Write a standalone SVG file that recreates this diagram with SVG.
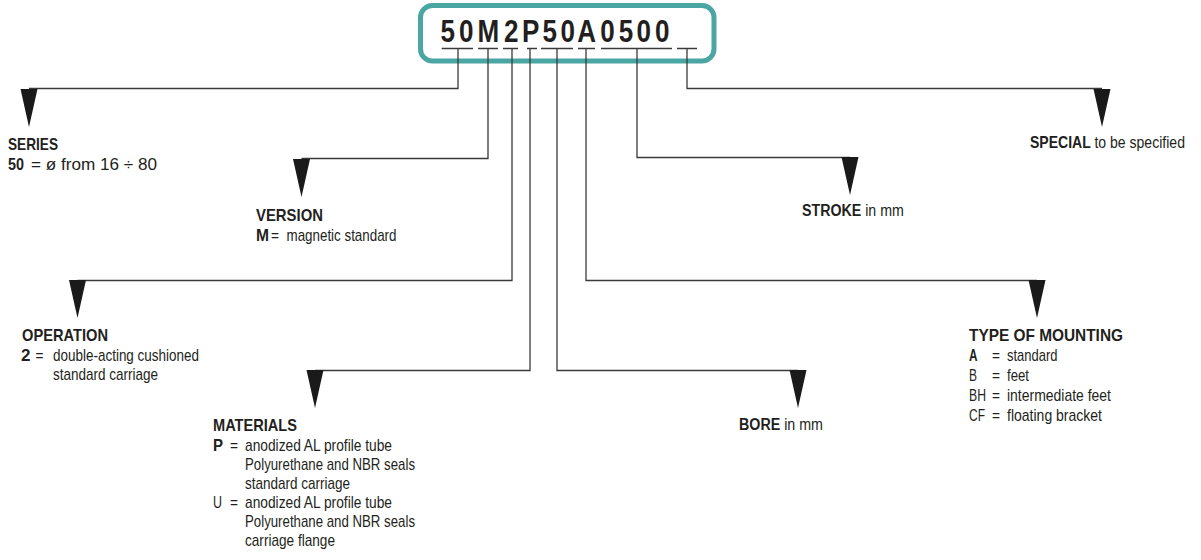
<svg xmlns="http://www.w3.org/2000/svg" xmlns:xlink="http://www.w3.org/1999/xlink" width="1201" height="560" viewBox="0 0 1201 560">
<style>
text{font-family:"Liberation Sans",Arial,sans-serif;fill:#231f20}
.h{font-weight:bold;font-size:17px}
.t{font-size:17px}
.r{font-weight:normal}
.ln{fill:none;stroke:#3a3a3a;stroke-width:1.3}
.code{font-weight:bold;font-size:31px}
</style>
<defs>
<path id="tri" d="M-8.5,0 L8.5,0 L0,38 Z" fill="#1a1a1a"/>
</defs>
<rect width="1201" height="560" fill="#ffffff"/>
<g id="code">
<rect x="420.5" y="5.5" width="293.5" height="55.5" rx="12" fill="none" stroke="#4aa6a2" stroke-width="5"/>
<text class="code" text-anchor="middle" transform="translate(555,0) scale(0.84,1)" x="-127.6 -105.6 -79.4 -52.1 -28.9 -6.3 15.2 37.7 62.5 84.5 105.6 127.6" y="42.5">50M2P50A0500</text>
</g>
<g id="connectors">
<path class="ln" d="M441.7,48.5H473 M478,48.5H498 M503,48.5H518 M527,48.5H537 M541,48.5H573 M578,48.5H595 M601,48.5H672 M677,48.5H697"/>
<path class="ln" d="M458,48.5V88.5H29"/>
<path class="ln" d="M488,48.5V158.5H301.5"/>
<path class="ln" d="M512,48.5V280.5H77.5"/>
<path class="ln" d="M530,48.5V370.5H315"/>
<path class="ln" d="M557,48.5V370.5H798"/>
<path class="ln" d="M586,48.5V280.5H1037"/>
<path class="ln" d="M637,48.5V157.5H850"/>
<path class="ln" d="M687,48.5V88.5H1102"/>
<use xlink:href="#tri" x="29" y="89"/>
<use xlink:href="#tri" x="301.5" y="159"/>
<use xlink:href="#tri" x="77.5" y="280"/>
<use xlink:href="#tri" x="315" y="370"/>
<use xlink:href="#tri" x="798" y="370"/>
<use xlink:href="#tri" x="1037" y="280"/>
<use xlink:href="#tri" x="850" y="157"/>
<use xlink:href="#tri" x="1102" y="89"/>
</g>
<g id="series">
<text class="h" x="8" y="150" textLength="50" lengthAdjust="spacingAndGlyphs">SERIES</text>
<text class="h" x="8" y="170" textLength="16" lengthAdjust="spacingAndGlyphs">50</text>
<text class="t" x="31" y="170" textLength="126" lengthAdjust="spacingAndGlyphs">= ø  from  16 ÷ 80</text>
</g>
<g id="version">
<text class="h" x="256" y="221" textLength="67" lengthAdjust="spacingAndGlyphs">VERSION</text>
<text class="h" x="256" y="241" textLength="13" lengthAdjust="spacingAndGlyphs">M</text>
<text class="t" x="271" y="241" textLength="8" lengthAdjust="spacingAndGlyphs">=</text>
<text class="t" x="286.5" y="241" textLength="110" lengthAdjust="spacingAndGlyphs">magnetic standard</text>
</g>
<g id="operation">
<text class="h" x="22" y="341" textLength="86" lengthAdjust="spacingAndGlyphs">OPERATION</text>
<text class="h" x="21" y="361" textLength="9.5" lengthAdjust="spacingAndGlyphs">2</text>
<text class="t" x="35.5" y="361" textLength="8" lengthAdjust="spacingAndGlyphs">=</text>
<text class="t" x="53" y="361" textLength="146" lengthAdjust="spacingAndGlyphs">double-acting cushioned</text>
<text class="t" x="53" y="380" textLength="105" lengthAdjust="spacingAndGlyphs">standard carriage</text>
</g>
<g id="materials">
<text class="h" x="213" y="431" textLength="84" lengthAdjust="spacingAndGlyphs">MATERIALS</text>
<text class="h" x="213" y="450.5" textLength="10" lengthAdjust="spacingAndGlyphs">P</text>
<text class="t" x="230" y="450.5" textLength="8" lengthAdjust="spacingAndGlyphs">=</text>
<text class="t" x="245" y="450.5" textLength="147" lengthAdjust="spacingAndGlyphs">anodized AL profile tube</text>
<text class="t" x="245" y="469.5" textLength="170" lengthAdjust="spacingAndGlyphs">Polyurethane and NBR seals</text>
<text class="t" x="245" y="488.5" textLength="105" lengthAdjust="spacingAndGlyphs">standard carriage</text>
<text class="t" x="213" y="507.5" textLength="9" lengthAdjust="spacingAndGlyphs">U</text>
<text class="t" x="230" y="507.5" textLength="8" lengthAdjust="spacingAndGlyphs">=</text>
<text class="t" x="245" y="507.5" textLength="147" lengthAdjust="spacingAndGlyphs">anodized AL profile tube</text>
<text class="t" x="245" y="526.5" textLength="170" lengthAdjust="spacingAndGlyphs">Polyurethane and NBR seals</text>
<text class="t" x="245" y="545.5" textLength="90" lengthAdjust="spacingAndGlyphs">carriage flange</text>
</g>
<g id="bore">
<text class="h" transform="translate(739,430) scale(0.839,1)">BORE <tspan class="r">in mm</tspan></text>
</g>
<g id="stroke">
<text class="h" transform="translate(802,216) scale(0.837,1)">STROKE <tspan class="r">in mm</tspan></text>
</g>
<g id="special">
<text class="h" transform="translate(1030,148) scale(0.826,1)">SPECIAL <tspan class="r">to be specified</tspan></text>
</g>
<g id="mounting">
<text class="h" x="969" y="341" textLength="154" lengthAdjust="spacingAndGlyphs">TYPE OF MOUNTING</text>
<text class="h" x="969" y="361" textLength="8.5" lengthAdjust="spacingAndGlyphs">A</text>
<text class="t" x="992" y="361" textLength="8" lengthAdjust="spacingAndGlyphs">=</text>
<text class="t" x="1007" y="361" textLength="50.5" lengthAdjust="spacingAndGlyphs">standard</text>
<text class="t" x="969" y="381" textLength="8" lengthAdjust="spacingAndGlyphs">B</text>
<text class="t" x="992" y="381" textLength="8" lengthAdjust="spacingAndGlyphs">=</text>
<text class="t" x="1007" y="381" textLength="22" lengthAdjust="spacingAndGlyphs">feet</text>
<text class="t" x="969" y="401" textLength="17" lengthAdjust="spacingAndGlyphs">BH</text>
<text class="t" x="992" y="401" textLength="8" lengthAdjust="spacingAndGlyphs">=</text>
<text class="t" x="1007" y="401" textLength="104" lengthAdjust="spacingAndGlyphs">intermediate feet</text>
<text class="t" x="969" y="421" textLength="16" lengthAdjust="spacingAndGlyphs">CF</text>
<text class="t" x="992" y="421" textLength="8" lengthAdjust="spacingAndGlyphs">=</text>
<text class="t" x="1007" y="421" textLength="95" lengthAdjust="spacingAndGlyphs">floating bracket</text>
</g>
</svg>
